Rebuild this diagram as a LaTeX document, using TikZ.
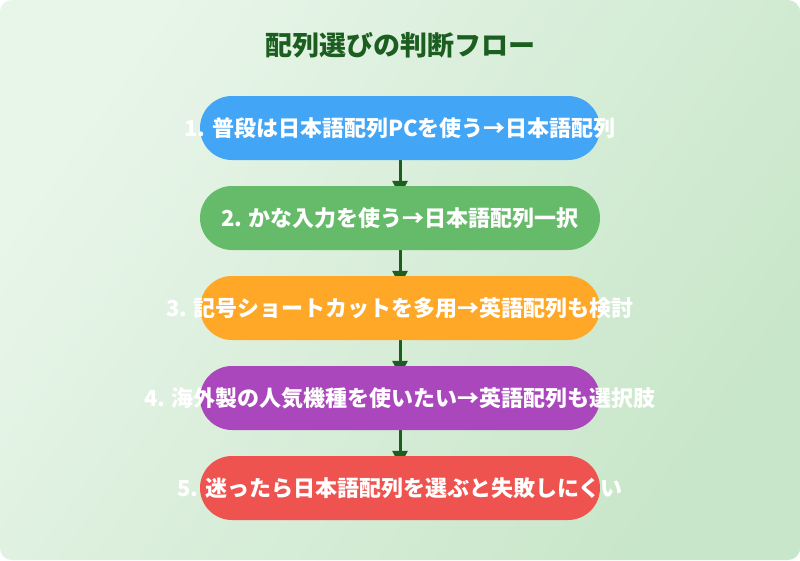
\documentclass[tikz,border=0pt]{standalone}
\usepackage{fontspec}
\setmainfont{Noto Sans CJK JP}
\usepackage{xcolor}
\usepackage{tikz}
\usetikzlibrary{arrows.meta}

\definecolor{bgA}{HTML}{E8F5E9}
\definecolor{bgB}{HTML}{C8E6C9}
\definecolor{darkgreen}{HTML}{1B5E20}
\definecolor{cblue}{HTML}{42A5F5}
\definecolor{cgreen}{HTML}{66BB6A}
\definecolor{corange}{HTML}{FFA726}
\definecolor{cpurple}{HTML}{AB47BC}
\definecolor{cred}{HTML}{EF5350}

\pgfdeclarelayer{bg}
\pgfdeclarelayer{arrows}
\pgfsetlayers{bg,arrows,main}

\begin{document}
\begin{tikzpicture}[x=1pt, y=-1pt,
    pill/.style={shape=rectangle, rounded corners=32pt, minimum width=400pt, minimum height=64pt, inner sep=0pt, draw=none},
    steptext/.style={text=white, font=\fontsize{22}{26}\selectfont\bfseries, inner sep=0pt},
    flow/.style={-{Triangle[width=15pt,length=15pt]}, line width=3pt, darkgreen, shorten >=-10pt}]

\useasboundingbox (0,0) rectangle (800,560);

%% background
\begin{pgfonlayer}{bg}
\fill[white] (0,0) rectangle (800,560);
\shade[left color=bgA, right color=bgB, shading angle=55, rounded corners=12pt] (0,0) rectangle (800,560);
\end{pgfonlayer}

%% title
\node[text=darkgreen, font=\fontsize{27}{31}\selectfont\bfseries] (title) at (400,45) {配列選びの判断フロー};

%% steps
\node[pill, fill=cblue, label={[steptext]center:1. 普段は日本語配列PCを使う→日本語配列}] (b1) at (400,128) {};
\node[pill, fill=cgreen, label={[steptext]center:2. かな入力を使う→日本語配列一択}] (b2) at (400,218) {};
\node[pill, fill=corange, label={[steptext]center:3. 記号ショートカットを多用→英語配列も検討}] (b3) at (400,308) {};
\node[pill, fill=cpurple, label={[steptext]center:4. 海外製の人気機種を使いたい→英語配列も選択肢}] (b4) at (400,398) {};
\node[pill, fill=cred, label={[steptext]center:5. 迷ったら日本語配列を選ぶと失敗しにくい}] (b5) at (400,488) {};

%% arrows
\begin{pgfonlayer}{arrows}
\draw[flow] (b1) -- (b2);
\draw[flow] (b2) -- (b3);
\draw[flow] (b3) -- (b4);
\draw[flow] (b4) -- (b5);
\end{pgfonlayer}

\end{tikzpicture}
\end{document}
